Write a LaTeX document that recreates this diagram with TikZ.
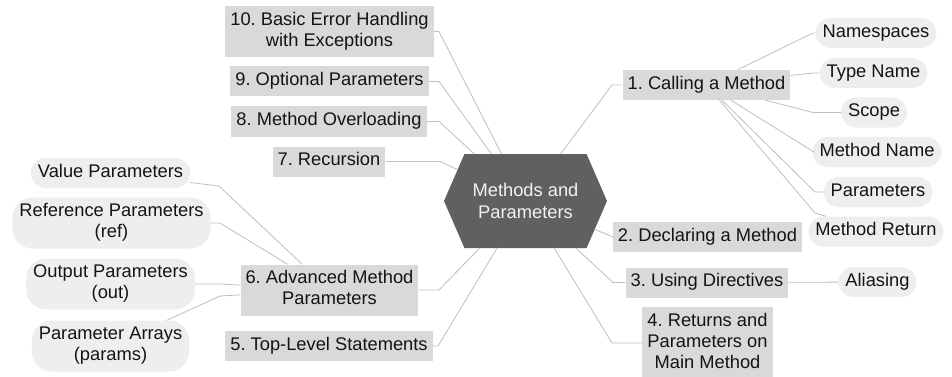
\documentclass[tikz,border=0pt]{standalone}
\usepackage{fontspec}
\setmainfont{Liberation Sans}
\usetikzlibrary{shapes.symbols}
\definecolor{hubgray}{RGB}{96,96,96}
\definecolor{boxgray}{RGB}{217,217,217}
\definecolor{leafgray}{RGB}{238,238,238}
\definecolor{linegray}{RGB}{190,190,190}
\definecolor{inkblack}{RGB}{20,20,20}
\tikzset{
  hub/.style={shape=signal, signal to=west and east, signal pointer angle=133,
    minimum width=163pt, minimum height=94pt, fill=hubgray, text=white!95!black,
    inner sep=0pt, align=center, font=\fontsize{18.3}{22}\selectfont\frenchspacing},
  topic/.style={fill=boxgray, inner xsep=5pt, inner ysep=4.5pt, align=center,
    text=inkblack, font=\fontsize{18.3}{21}\selectfont\frenchspacing},
  leaf/.style={fill=leafgray, rounded corners=15pt, inner xsep=7pt, inner ysep=4.5pt,
    align=center, text=inkblack, font=\fontsize{18.3}{21}\selectfont\frenchspacing},
  leaftwo/.style={leaf, rounded corners=20pt},
  conn/.style={draw=linegray, line width=0.8pt}
}
\begin{document}
\begin{tikzpicture}[x=1pt,y=-1pt]
\useasboundingbox (0,0) rectangle (952,377);
% hub
\node[hub] (hub) at (525.5,201) {Methods and\\Parameters};
% left topics
\node[topic] (n10) at (329.5,31.5) {\strut 10. Basic Error Handling\\\strut with Exceptions};
\node[topic] (n9) at (329.5,81.5) {\strut 9. Optional Parameters};
\node[topic] (n8) at (329,121.5) {\strut 8. Method Overloading};
\node[topic] (n7) at (329,161.5) {\strut 7. Recursion};
\node[topic] (n6) at (329.5,290) {\strut 6. Advanced Method\\\strut Parameters};
\node[topic] (n5) at (329,346) {\strut 5. Top-Level Statements};
% right topics
\node[topic] (n1) at (706.5,85) {\strut 1. Calling a Method};
\node[topic] (n2) at (707.5,237) {\strut 2. Declaring a Method};
\node[topic] (n3) at (707,282.5) {\strut 3. Using Directives};
\node[topic] (n4) at (707.5,343) {\strut 4. Returns and\\\strut Parameters on\\\strut Main Method};
% right leaves
\node[leaf] (ns) at (876,33) {\strut Namespaces};
\node[leaf] (tn) at (873.5,73) {\strut Type Name};
\node[leaf] (sc) at (874,112.5) {\strut Scope};
\node[leaf] (mn) at (877,152) {\strut Method Name};
\node[leaf] (pa) at (878,192) {\strut Parameters};
\node[leaf] (mr) at (876,231.5) {\strut Method Return};
\node[leaf] (al) at (877.5,282) {\strut Aliasing};
% left leaves
\node[leaf] (vp) at (110.5,173) {\strut Value Parameters};
\node[leaftwo] (rp) at (111.5,223) {\strut Reference Parameters\\\strut (ref)};
\node[leaftwo] (op) at (110.5,284) {\strut Output Parameters\\\strut (out)};
\node[leaftwo] (ap) at (110.5,346) {\strut Parameter Arrays\\\strut (params)};
% bend points
\coordinate (q10) at (439,31.5);
\coordinate (q9) at (439,81.5);
\coordinate (q8) at (439,121.5);
\coordinate (q7) at (440,161.5);
\coordinate (q6) at (439,290);
\coordinate (q5) at (438,346);
\coordinate (q1) at (612,85);
\coordinate (q2) at (613,237);
\coordinate (q3) at (613,282.5);
\coordinate (q4) at (612,343);
\coordinate (qns) at (813,33);
\coordinate (qtn) at (813,73);
\coordinate (qsc) at (813,112.5);
\coordinate (qmn) at (814,152);
\coordinate (qpa) at (815,192);
\coordinate (qmr) at (815,213);
\coordinate (qvp) at (219,186);
\coordinate (qrp) at (220,223);
\coordinate (qop) at (220,284);
\coordinate (qap) at (220,296);
% connectors
\draw[conn] (hub) -- (q10) -- (n10);
\draw[conn] (hub) -- (q9) -- (n9);
\draw[conn] (hub) -- (q8) -- (n8);
\draw[conn] (hub) -- (q7) -- (n7);
\draw[conn] (hub) -- (q6) -- (n6);
\draw[conn] (hub) -- (q5) -- (n5);
\draw[conn] (hub) -- (q1) -- (n1);
\draw[conn] (hub) -- (q2) -- (n2);
\draw[conn] (hub) -- (q3) -- (n3);
\draw[conn] (hub) -- (q4) -- (n4);
\draw[conn] (n1) -- (qns) -- (ns);
\draw[conn] (n1) -- (qtn) -- (tn);
\draw[conn] (n1) -- (qsc) -- (sc);
\draw[conn] (n1) -- (qmn) -- (mn);
\draw[conn] (n1) -- (qpa) -- (pa);
\draw[conn] (n1) -- (qmr) -- (mr);
\draw[conn] (n3) -- (al);
\draw[conn] (n6) -- (qvp) -- (vp);
\draw[conn] (n6) -- (qrp) -- (rp);
\draw[conn] (n6) -- (qop) -- (op);
\draw[conn] (n6) -- (qap) -- (ap);
\end{tikzpicture}
\end{document}
